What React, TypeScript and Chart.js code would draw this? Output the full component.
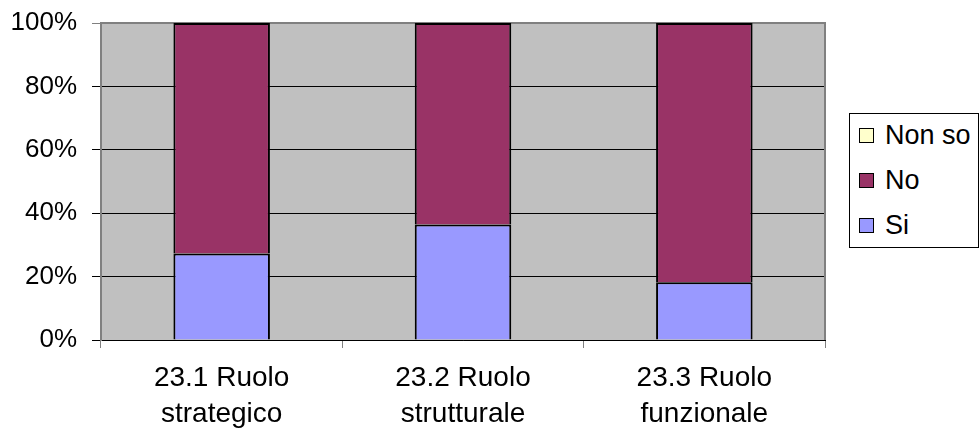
import React, { useEffect, useRef } from "react";
import { Chart, registerables } from "chart.js";

Chart.register(...registerables);

const categories: string[][] = [
  ["23.1 Ruolo", "strategico"],
  ["23.2 Ruolo", "strutturale"],
  ["23.3 Ruolo", "funzionale"],
];
const siValues = [27.3, 36.4, 18.2];
const noValues = [72.7, 63.6, 81.8];
const nonSoValues = [0, 0, 0];
const yTicks = [0, 20, 40, 60, 80, 100];

const SI_COLOR = "#9999FF";
const NO_COLOR = "#993366";
const NONSO_COLOR = "#FFFFCC";
const FONT = "'Liberation Sans', Arial, sans-serif";

const legendItems = [
  { label: "Non so", color: NONSO_COLOR },
  { label: "No", color: NO_COLOR },
  { label: "Si", color: SI_COLOR },
];

const bgPlugin = {
  id: "plotBg",
  beforeDraw(chart: any) {
    const { ctx, chartArea } = chart;
    ctx.save();
    ctx.fillStyle = "#C0C0C0";
    ctx.fillRect(chartArea.left, chartArea.top, chartArea.right - chartArea.left, chartArea.bottom - chartArea.top);
    ctx.restore();
  },
  beforeDatasetsDraw(chart: any) {
    const { ctx, chartArea } = chart;
    ctx.save();
    ctx.strokeStyle = "#808080";
    ctx.lineWidth = 2;
    ctx.beginPath();
    ctx.moveTo(chartArea.left, chartArea.top);
    ctx.lineTo(chartArea.right, chartArea.top);
    ctx.lineTo(chartArea.right, chartArea.bottom);
    ctx.stroke();
    ctx.restore();
  },
};

export default function App() {
  const canvasRef = useRef<HTMLCanvasElement | null>(null);

  useEffect(() => {
    if (!canvasRef.current) return;
    const chart = new Chart(canvasRef.current, {
      type: "bar",
      data: {
        labels: categories,
        datasets: [
          { label: "Si", data: siValues, backgroundColor: SI_COLOR, borderColor: "#000", borderWidth: 2 },
          { label: "No", data: noValues, backgroundColor: NO_COLOR, borderColor: "#000", borderWidth: 2 },
          { label: "Non so", data: nonSoValues, backgroundColor: NONSO_COLOR, borderColor: "#000", borderWidth: 2 },
        ],
      },
      options: {
        animation: false,
        responsive: false,
        maintainAspectRatio: false,
        devicePixelRatio: 1,
        layout: { padding: { left: 0, top: 23, right: 154, bottom: 0 } },
        plugins: { legend: { display: false }, tooltip: { enabled: false } },
        datasets: { bar: { categoryPercentage: 1, barPercentage: 0.4 } },
        scales: {
          x: {
            stacked: true,
            afterFit: (s: any) => { s.height = 90; s.paddingLeft = 0; s.paddingRight = 0; },
            grid: { drawOnChartArea: false, drawTicks: true, tickLength: 8, color: "#808080", lineWidth: 1 },
            border: { display: true, color: "#000", width: 1 },
            ticks: { color: "#000", padding: 13, font: { family: FONT, size: 28, lineHeight: 1.27 }, maxRotation: 0, autoSkip: false },
          },
          y: {
            stacked: true,
            min: 0,
            max: 100,
            afterFit: (s: any) => { s.width = 101; s.paddingTop = 0; s.paddingBottom = 0; },
            afterBuildTicks: (s: any) => { s.ticks = yTicks.map((v) => ({ value: v })); },
            grid: {
              drawTicks: true,
              tickLength: 9,
              color: (c: any) => (c.tick && c.tick.value === 100 ? "#808080" : "#000"),
              lineWidth: 1,
            },
            border: { display: true, color: "#808080", width: 2 },
            ticks: { color: "#000", padding: 15, font: { family: FONT, size: 26 }, callback: (v: any) => v + "%" },
          },
        },
      },
      plugins: [bgPlugin],
    });
    return () => chart.destroy();
  }, []);

  return (
    <div style={{ position: "absolute", left: 0, top: 0, width: 979, height: 430, background: "#fff" }}>
      <canvas ref={canvasRef} width={979} height={430} style={{ position: "absolute", left: 0, top: 0, width: 979, height: 430 }} />
      <div
        style={{
          position: "absolute",
          left: 849,
          top: 113,
          width: 128,
          height: 133,
          border: "1px solid #000",
          background: "#fff",
          fontFamily: FONT,
          fontSize: 27,
          color: "#000",
        }}
      >
        {legendItems.map((it, i) => (
          <div
            key={it.label}
            style={{ position: "absolute", left: 9, top: 21 + i * 45 - 16, height: 32, display: "flex", alignItems: "center", whiteSpace: "nowrap" }}
          >
            <span
              style={{
                display: "inline-block",
                width: 13,
                height: 13,
                border: "1.5px solid #000",
                background: it.color,
                marginRight: 11,
              }}
            />
            <span>{it.label}</span>
          </div>
        ))}
      </div>
    </div>
  );
}
